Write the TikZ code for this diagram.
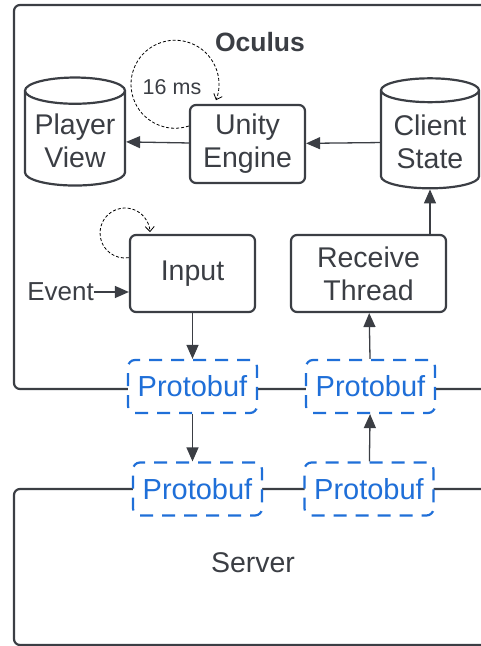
\documentclass[tikz,border=0pt]{standalone}
\usepackage{fontspec}
\setmainfont{Liberation Sans}
\usetikzlibrary{shapes.geometric,arrows.meta}
\definecolor{inkgray}{HTML}{3B3E44}
\definecolor{protoblue}{HTML}{1F6FD8}
\begin{document}
\begin{tikzpicture}[x=1pt,y=1pt,
  box/.style={draw=inkgray,line width=2.2pt,rounded corners=6pt,text=inkgray,align=center,
    font=\fontsize{28.5}{33}\selectfont},
  store/.style={cylinder,shape border rotate=90,aspect=0.3,draw=inkgray,line width=2.2pt,
    text=inkgray,align=center,font=\fontsize{28.5}{33}\selectfont},
  proto/.style={draw=protoblue,fill=white,line width=2.2pt,dash pattern=on 13pt off 9pt,
    rounded corners=7pt,text=protoblue,minimum width=129pt,minimum height=53pt,
    font=\fontsize{29}{33}\selectfont},
  note/.style={text=inkgray,inner sep=0pt},
  frame/.style={draw=inkgray,line width=2.2pt,rounded corners=6pt},
  link/.style={draw=inkgray,line width=1.3pt,-{Triangle[length=14pt,width=12pt]}},
  tick/.style={draw=black,line width=0.8pt,densely dashed,-{Straight Barb[length=5pt,width=9pt]}}]
\clip (0,0) rectangle (481,646);
% the two enclosing frames
\draw[frame] (500,641) -- (14,641) -- (14,257) -- (500,257);
\draw[frame] (500,157) -- (14,157) -- (14,1) -- (500,1);
\node[note,font=\fontsize{26.5}{30}\selectfont\bfseries] (oculus) at (260,604) {Oculus};
\node[note,font=\fontsize{28.5}{33}\selectfont] (server) at (253,83) {Server};

% Oculus side
\node[store,minimum width=100pt,minimum height=108pt] (player) at (75,505) {Player\\View};
\node[box,minimum width=115pt,minimum height=78pt] (unity) at (247.5,502) {Unity\\Engine};
\node[store,minimum width=98pt,minimum height=110pt] (client) at (430,504) {Client\\State};
\node[box,minimum width=125pt,minimum height=77pt] (input) at (192.5,372.5) {Input};
\node[box,minimum width=155pt,minimum height=77pt] (recv) at (368.5,372.5) {Receive\\Thread};
\node[note,anchor=east,font=\fontsize{26}{30}\selectfont] (event) at (94,354) {Event};

% protobuf boundary
\node[proto] (pt1) at (192.5,259.5) {Protobuf};
\node[proto] (pt2) at (370.5,259.5) {Protobuf};
\node[proto] (pb1) at (197.5,157) {Protobuf};
\node[proto] (pb2) at (369,157) {Protobuf};

% connectors
\draw[link] (client) -- (unity);
\draw[link] (unity) -- (player);
\draw[link] (recv.north -| client.south) -- (client.south);
\draw[link] (event.east) -- (event.east -| input.west);
\draw[link] (input) -- (pt1);
\draw[link] (pt2) -- (recv);
\draw[link] (pt1.south) -- (pt1.south |- pb1.north);
\draw[link] (pb2) -- (pt2);

% timer loops
\draw[tick] ([yshift=18pt]unity.west) arc[start angle=-71.6,end angle=-381.3,radius=44];
\node[note,font=\fontsize{21.5}{25}\selectfont] (tick) at (172,559) {16 ms};
\draw[tick] ([yshift=15.8pt]input.west) arc[start angle=-81,end angle=-358,radius=25];
\end{tikzpicture}
\end{document}
